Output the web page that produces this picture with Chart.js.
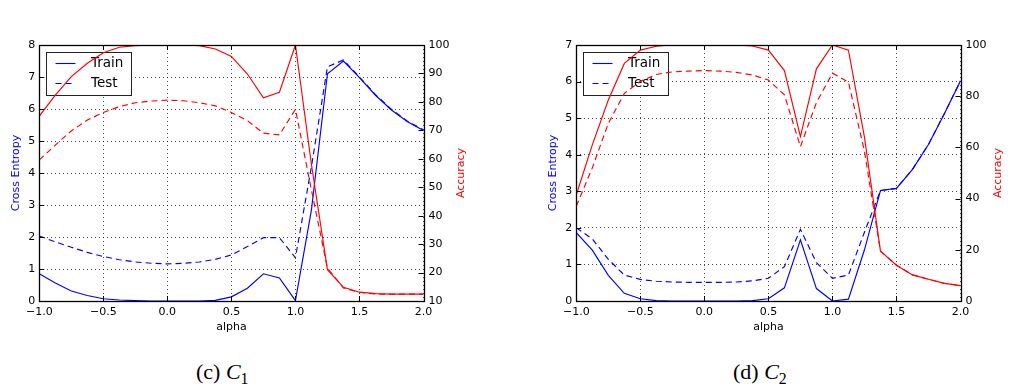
<!DOCTYPE html>
<html><head><meta charset="utf-8">
<script src="https://cdn.jsdelivr.net/npm/chart.js@4/dist/chart.umd.min.js"></script>
<style>
html,body{margin:0;padding:0;background:#fff;width:1033px;height:388px;overflow:hidden;position:relative;}
canvas{position:absolute;top:0;}
#cA{left:0;} #cB{left:537px;}
.cap{position:absolute;top:359px;font-family:"Liberation Serif","Times New Roman",serif;font-size:22px;line-height:26px;color:#000;white-space:nowrap;}
.cap i{font-style:italic;}
.cap sub{font-size:72%;vertical-align:-0.3em;line-height:0;}
#capA{left:196px;} #capB{left:733px;}
</style></head><body>
<canvas id="cA" width="490" height="345"></canvas>
<canvas id="cB" width="490" height="345"></canvas>
<div class="cap" id="capA">(c) <i>C</i><sub>1</sub></div>
<div class="cap" id="capB">(d) <i>C</i><sub>2</sub></div>
<script>
// ---- data ----
const alpha = [-1, -0.875, -0.75, -0.625, -0.5, -0.375, -0.25, -0.125, 0, 0.125, 0.25, 0.375, 0.5,
               0.625, 0.75, 0.875, 1, 1.125, 1.25, 1.375, 1.5, 1.625, 1.75, 1.875, 2];

const c1TrainLoss = [0.85, 0.56, 0.31, 0.17, 0.07, 0.03, 0.01, 0.0, 0.0, 0.0, 0.0, 0.02, 0.13,
                     0.40, 0.85, 0.72, 0.01, 2.85, 7.10, 7.50, 6.98, 6.43, 5.97, 5.60, 5.33];
const c1TestLoss  = [2.03, 1.85, 1.68, 1.52, 1.39, 1.29, 1.22, 1.18, 1.16, 1.18, 1.22, 1.30, 1.44,
                     1.70, 1.98, 1.98, 1.35, 4.20, 7.32, 7.53, 7.00, 6.45, 5.99, 5.62, 5.35];
const c1TrainAcc  = [75.0, 82.4, 88.9, 93.6, 97.3, 99.2, 99.8, 100, 100, 100, 99.8, 98.6, 96.0,
                     89.8, 81.4, 83.4, 100, 58.0, 21.0, 14.8, 13.1, 12.6, 12.4, 12.4, 12.4];
const c1TestAcc   = [59.6, 64.8, 69.8, 73.6, 76.3, 78.3, 79.7, 80.3, 80.6, 80.4, 79.7, 78.6, 76.3,
                     73.4, 69.0, 68.4, 77.4, 49.0, 21.5, 14.6, 13.0, 12.5, 12.4, 12.4, 12.4];

const c2TrainLoss = [1.87, 1.39, 0.70, 0.21, 0.06, 0.01, 0.0, 0.0, 0.0, 0.0, 0.0, 0.01, 0.06,
                     0.36, 1.67, 0.34, 0.0, 0.05, 1.40, 3.02, 3.08, 3.60, 4.28, 5.13, 6.02];
const c2TestLoss  = [2.00, 1.70, 1.14, 0.71, 0.59, 0.54, 0.52, 0.51, 0.51, 0.51, 0.52, 0.55, 0.62,
                     0.94, 1.96, 1.05, 0.62, 0.71, 1.88, 3.02, 3.08, 3.60, 4.28, 5.13, 6.02];
const c2TrainAcc  = [41.5, 61.0, 78.5, 92.8, 98.0, 99.5, 100, 100, 100, 100, 100, 99.6, 98.0,
                     90.0, 64.2, 90.7, 100, 98.0, 64.0, 19.5, 14.0, 10.2, 8.5, 6.9, 6.0];
const c2TestAcc   = [37.0, 52.0, 69.4, 81.1, 85.8, 88.5, 89.5, 89.8, 90.0, 89.8, 89.3, 88.3, 86.3,
                     80.5, 60.3, 77.5, 89.0, 85.5, 58.5, 19.5, 14.0, 10.2, 8.5, 6.9, 6.0];

const legendLabels = ['Train', 'Test'];
const xTitle = 'alpha';
const yLeftTitle = 'Cross Entropy';
const yRightTitle = 'Accuracy';

// ---- styling ----
const FONT = '"DejaVu Sans", sans-serif';
const BLUE = '#0000ff', RED = '#ff0000';
const DASH = [6, 4];

function fmtX(v) {
  const s = Math.abs(v).toFixed(1);
  return v < 0 ? '\u2212' + s : s;
}

function line(ctx, x1, y1, x2, y2) {
  ctx.beginPath(); ctx.moveTo(x1, y1); ctx.lineTo(x2, y2); ctx.stroke();
}

const decor = {
  id: 'decor',
  afterDatasetDraw(chart, args) {
    // legend belongs to the left axis: drawn after the blue lines, beneath the red ones
    if (args.index !== 2) return;
    const ca = chart.chartArea, ctx = chart.ctx;
    const bx = Math.round(ca.left + 6.5), by = Math.round(ca.top + 7), bw = 85, bh = 43;
    ctx.save();
    ctx.fillStyle = '#fff';
    ctx.fillRect(bx, by, bw, bh);
    ctx.strokeStyle = '#222';
    ctx.lineWidth = 1;
    ctx.strokeRect(bx + 0.5, by + 0.5, bw, bh);
    const dashes = [[], DASH];
    legendLabels.forEach((lab, i) => {
      const y = by + 11.5 + i * 20;
      ctx.strokeStyle = BLUE;
      ctx.lineWidth = 1.1;
      ctx.setLineDash(dashes[i]);
      line(ctx, bx + 9.5, y, bx + 29.5, y);
      ctx.setLineDash([]);
      ctx.fillStyle = '#000';
      ctx.font = '13.5px ' + FONT;
      ctx.textAlign = 'left';
      ctx.textBaseline = 'middle';
      ctx.fillText(lab, bx + 45, y);
    });
    ctx.restore();
  },
  afterDraw(chart) {
    const ca = chart.chartArea, ctx = chart.ctx;
    const xs = chart.scales.x, yl = chart.scales.y, yr = chart.scales.y2;
    ctx.save();
    ctx.strokeStyle = '#000';
    ctx.lineWidth = 1;
    const TL = 5;
    xs.ticks.forEach(t => {
      const px = Math.round(xs.getPixelForValue(t.value)) + 0.5;
      line(ctx, px, ca.bottom, px, ca.bottom - TL);
      line(ctx, px, ca.top, px, ca.top + TL);
    });
    yl.ticks.forEach(t => {
      const py = Math.round(yl.getPixelForValue(t.value)) + 0.5;
      line(ctx, ca.left, py, ca.left + TL, py);
    });
    yr.ticks.forEach(t => {
      const py = Math.round(yr.getPixelForValue(t.value)) + 0.5;
      line(ctx, ca.right, py, ca.right - TL, py);
    });
    ctx.lineWidth = 1.3;
    ctx.strokeRect(Math.round(ca.left) + 0.5, Math.round(ca.top) + 0.5,
                   Math.round(ca.right) - Math.round(ca.left), Math.round(ca.bottom) - Math.round(ca.top));
    // axis titles
    const midY = (ca.top + ca.bottom) / 2;
    ctx.font = '11px ' + FONT;
    ctx.textAlign = 'center';
    ctx.textBaseline = 'middle';
    ctx.fillStyle = '#000';
    ctx.fillText(xTitle, (ca.left + ca.right) / 2, 327.5);
    ctx.save();
    ctx.translate(ca.left - 23.5, midY);
    ctx.rotate(-Math.PI / 2);
    ctx.fillStyle = BLUE;
    ctx.fillText(yLeftTitle, 0, 0);
    ctx.restore();
    ctx.save();
    ctx.translate(ca.right + 38, midY);
    ctx.rotate(-Math.PI / 2);
    ctx.fillStyle = RED;
    ctx.fillText(yRightTitle, 0, 0);
    ctx.restore();
    ctx.restore();
  }
};

function makeChart(id, trainLoss, testLoss, trainAcc, testAcc, yMax, accMin, accStep) {
  const pts = arr => alpha.map((a, i) => ({ x: a, y: arr[i] }));
  const ds = (arr, color, dash, axis) => ({
    data: pts(arr), borderColor: color, borderWidth: 1.15, borderDash: dash,
    pointRadius: 0, pointHoverRadius: 0, fill: false, tension: 0, yAxisID: axis
  });
  const tickFont = { family: FONT, size: 11 };
  return new Chart(document.getElementById(id), {
    type: 'line',
    data: {
      datasets: [
        ds(trainAcc, RED, [], 'y2'),
        ds(testAcc, RED, DASH, 'y2'),
        ds(trainLoss, BLUE, [], 'y'),
        ds(testLoss, BLUE, DASH, 'y')
      ]
    },
    options: {
      responsive: false, animation: false, devicePixelRatio: 1,
      layout: { padding: { top: 45, left: 0, right: 0, bottom: 0 } },
      plugins: { legend: { display: false }, tooltip: { enabled: false } },
      events: [],
      scales: {
        x: {
          type: 'linear', min: -1, max: 2,
          afterFit: s => { s.height = 44; },
          ticks: { stepSize: 0.5, autoSkip: false, maxRotation: 0, color: '#000', font: tickFont, padding: 5, callback: fmtX },
          grid: { color: 'rgba(0,0,0,0.7)', lineWidth: 1, drawTicks: false },
          border: { display: false, dash: [1, 3] }
        },
        y: {
          type: 'linear', position: 'left', min: 0, max: yMax,
          afterFit: s => { s.width = 39.3; },
          ticks: { stepSize: 1, color: '#000', font: tickFont, padding: 4 },
          grid: { color: 'rgba(0,0,0,0.7)', lineWidth: 1, drawTicks: false },
          border: { display: false, dash: [1, 3] }
        },
        y2: {
          type: 'linear', position: 'right', min: accMin, max: 100,
          afterFit: s => { s.width = 66.5; },
          ticks: { stepSize: accStep, color: '#000', font: tickFont, padding: 5 },
          grid: { display: false, drawTicks: false, drawOnChartArea: false },
          border: { display: false }
        }
      }
    },
    plugins: [decor]
  });
}

makeChart('cA', c1TrainLoss, c1TestLoss, c1TrainAcc, c1TestAcc, 8, 10, 10);
makeChart('cB', c2TrainLoss, c2TestLoss, c2TrainAcc, c2TestAcc, 7, 0, 20);
</script>
</body></html>
